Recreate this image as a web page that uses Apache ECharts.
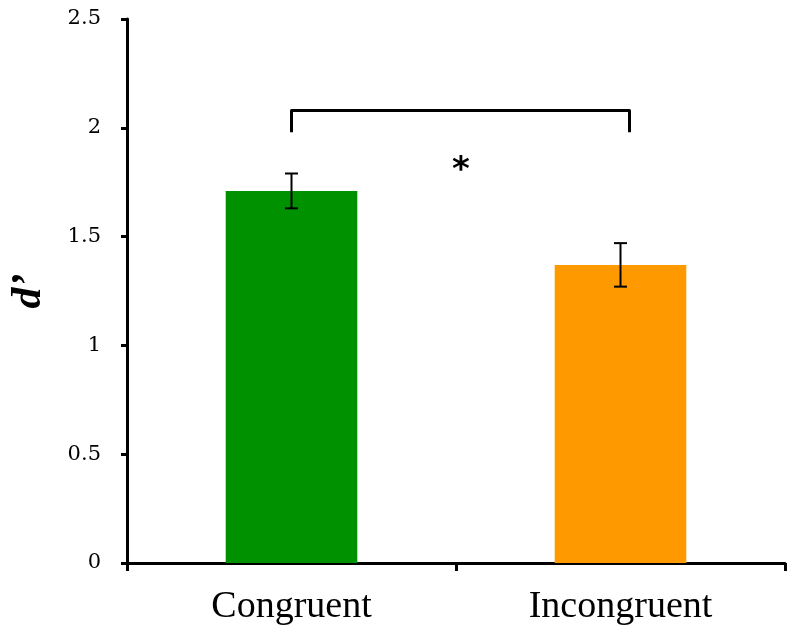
<!DOCTYPE html>
<html><head><meta charset="utf-8">
<script src="https://cdn.jsdelivr.net/npm/echarts@6/dist/echarts.min.js"></script>
<style>html,body{margin:0;padding:0;background:#fff}#c{width:800px;height:639px}</style>
</head><body><div id="c"></div>
<script>
const categories = ['Congruent', 'Incongruent'];
const means = [1.71, 1.37];
const errLow = [1.63, 1.27];
const errHigh = [1.79, 1.47];
const barColors = ['#009100', '#FF9900'];
const yTicks = [0, 0.5, 1, 1.5, 2, 2.5];
const bracketTop = 2.08;
const bracketBottom = 1.98;
const sigLabel = '*';
const sigY = 1.80;

const chart = echarts.init(document.getElementById('c'));
const serif = '"Liberation Serif","DejaVu Serif",serif';
chart.setOption({
  animation: false,
  grid: { left: 127, right: 15, top: 19, bottom: 76, containLabel: false, outerBoundsMode: 'none' },
  xAxis: {
    type: 'category', data: categories,
    axisLine: { lineStyle: { color: '#000', width: 3 } },
    axisTick: { show: true, length: 8, lineStyle: { color: '#000', width: 3 }, alignWithLabel: false },
    axisLabel: { color: '#000', fontFamily: serif, fontSize: 38, margin: 25 }
  },
  yAxis: {
    type: 'value', min: 0, max: 2.5, interval: 0.5,
    name: "d\u2019", nameLocation: 'middle', nameGap: 77, nameRotate: 90,
    nameTextStyle: { fontFamily: serif, fontSize: 42, fontWeight: 'bold', fontStyle: 'italic', color: '#000' },
    axisLine: { show: true, lineStyle: { color: '#000', width: 3 } },
    axisTick: { show: true, length: 6, lineStyle: { color: '#000', width: 3 } },
    splitLine: { show: false },
    axisLabel: { color: '#000', fontFamily: '"DejaVu Serif",serif', fontSize: 21, margin: 26,
      formatter: v => yTicks.includes(v) ? String(v) : '' }
  },
  series: [
    {
      type: 'bar', barWidth: '40%',
      data: means.map((v, i) => ({ value: v, itemStyle: { color: barColors[i] } }))
    },
    {
      type: 'custom',
      data: categories.map((c, i) => [i, errLow[i], errHigh[i]]),
      renderItem: (params, api) => {
        const lo = api.coord([api.value(0), api.value(1)]);
        const hi = api.coord([api.value(0), api.value(2)]);
        const w = 6.5;
        const st = { stroke: '#000', lineWidth: 2 };
        return { type: 'group', children: [
          { type: 'line', shape: { x1: hi[0], y1: hi[1], x2: lo[0], y2: lo[1] }, style: st },
          { type: 'line', shape: { x1: hi[0] - w, y1: hi[1], x2: hi[0] + w, y2: hi[1] }, style: st },
          { type: 'line', shape: { x1: lo[0] - w, y1: lo[1], x2: lo[0] + w, y2: lo[1] }, style: st }
        ]};
      },
      z: 5
    },
    {
      type: 'custom',
      data: [[0, 1, bracketTop, bracketBottom, sigY]],
      renderItem: (params, api) => {
        const a = api.coord([api.value(0), api.value(3)]);
        const b = api.coord([api.value(0), api.value(2)]);
        const c = api.coord([api.value(1), api.value(2)]);
        const d = api.coord([api.value(1), api.value(3)]);
        const s = api.coord([api.value(0), api.value(4)]);
        const midX = (a[0] + d[0]) / 2 + 5;
        const off = 9;
        return { type: 'group', children: [
          { type: 'polyline', shape: { points: [a, b, [c[0] + off, c[1]], [d[0] + off, d[1]]] },
            style: { stroke: '#000', lineWidth: 3, fill: null, lineJoin: 'round' } },
          { type: 'text', x: midX, y: s[1],
            style: { text: sigLabel, fill: '#000', font: 'bold 34px "DejaVu Sans",sans-serif', align: 'center', verticalAlign: 'middle' } }
        ]};
      },
      z: 5
    }
  ]
});
</script></body></html>
